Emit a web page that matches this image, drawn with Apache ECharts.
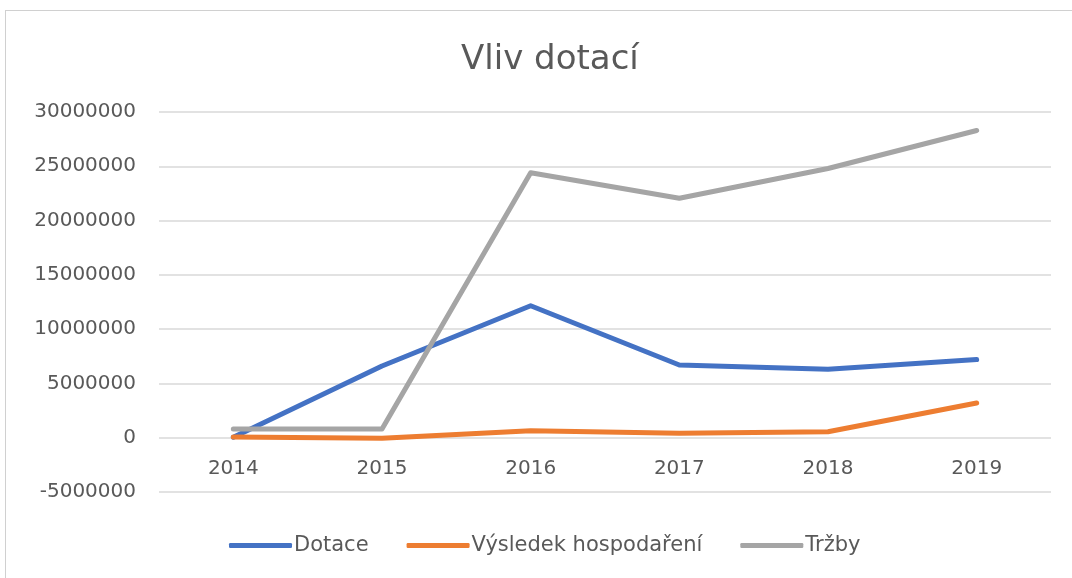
<!DOCTYPE html>
<html>
<head>
<meta charset="utf-8">
<script src="https://cdn.jsdelivr.net/npm/echarts@6/dist/echarts.min.js"></script>
<style>
    html, body {margin:0;padding:0;background:#fff;}
    #chart {width:1072px;height:578px;}
    .frame {position:absolute;left:5px;top:10px;width:1100px;height:600px;border:1px solid #d0d0d0;pointer-events:none;}
</style>
</head>
<body>
<div id="chart"></div>
<div class="frame"></div>
<script>
    var years = ['2014', '2015', '2016', '2017', '2018', '2019'];
    var dotace = [50000, 6600000, 12150000, 6700000, 6300000, 7200000];
    var vysledek = [60000, -60000, 650000, 400000, 550000, 3200000];
    var trzby = [800000, 800000, 24400000, 22050000, 24800000, 28300000];

    var chart = echarts.init(document.getElementById('chart'));
    var font = '"DejaVu Sans", sans-serif';

    function line(name, data, color) {
        return {
            name: name,
            type: 'line',
            data: data,
            symbol: 'none',
            lineStyle: {width: 5, color: color, cap: 'round', join: 'round'},
            itemStyle: {color: color},
            z: 3
        };
    }

    chart.setOption({
        animation: false,
        title: {
            text: 'Vliv dotací',
            left: 456,
            top: 38,
            textStyle: {fontFamily: font, fontSize: 34, fontWeight: 'normal', color: '#595959'}
        },
        legend: {
            bottom: 17,
            left: 224,
            icon: 'roundRect',
            itemWidth: 63,
            itemHeight: 5,
            itemGap: 38,
            textStyle: {fontFamily: font, fontSize: 21, color: '#595959', padding: [0, 0, 0, -3]},
            data: ['Dotace', 'Výsledek hospodaření', 'Tržby']
        },
        grid: {left: 159, right: 21, top: 112, bottom: 86},
        xAxis: {
            type: 'category',
            data: years,
            boundaryGap: true,
            offset: -54.3,
            axisLine: {show: false},
            axisTick: {show: false},
            axisLabel: {fontFamily: font, fontSize: 20, color: '#595959', margin: 21}
        },
        yAxis: {
            type: 'value',
            min: -5000000,
            max: 30000000,
            interval: 5000000,
            axisLine: {show: false},
            axisTick: {show: false},
            splitLine: {lineStyle: {color: '#d9d9d9', width: 1.5}},
            axisLabel: {fontFamily: font, fontSize: 20, color: '#595959', margin: 23,
                formatter: function (v) { return String(v); }}
        },
        series: [
            line('Dotace', dotace, '#4472C4'),
            line('Výsledek hospodaření', vysledek, '#ED7D31'),
            line('Tržby', trzby, '#A5A5A5')
        ]
    });
</script>
</body>
</html>
